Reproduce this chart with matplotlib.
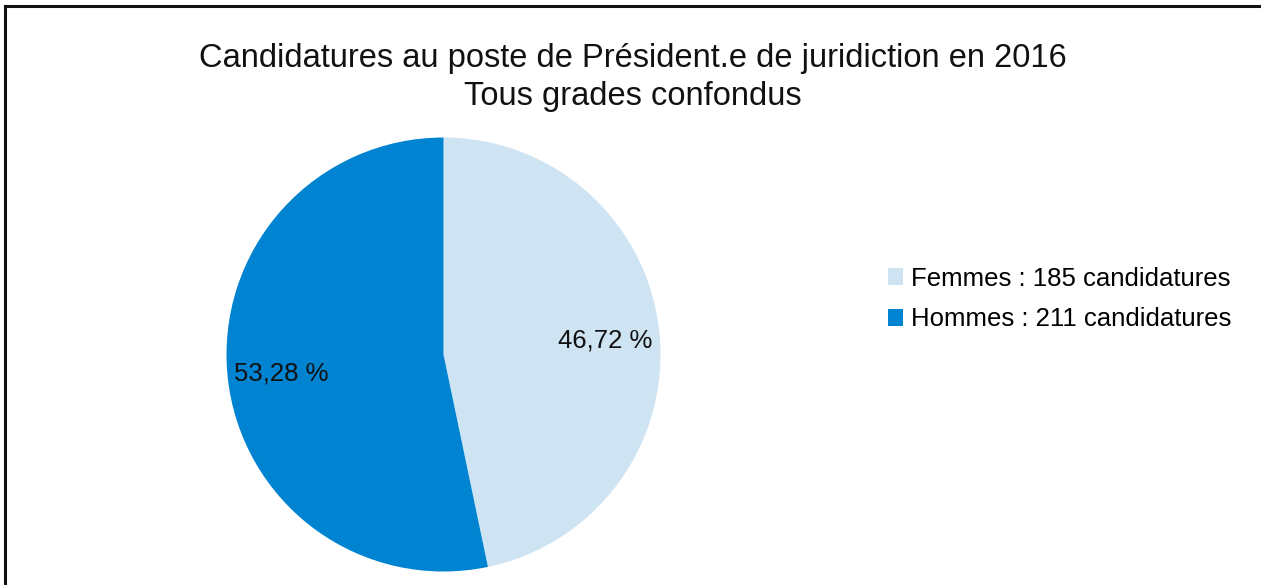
import matplotlib
matplotlib.use("Agg")
import matplotlib.pyplot as plt
from matplotlib.lines import Line2D

plt.rcParams['font.family'] = ['Liberation Sans', 'DejaVu Sans']

labels = ["Femmes", "Hommes"]
counts = [185, 211]
colors = ['#cfe4f3', '#0083d1']

W, H = 1261, 585
fig = plt.figure(figsize=(W / 100, H / 100), dpi=100)

# pie axes: centre ~ (443, 355) px, radius ~217 px
cx, cy, r = 443.5, 354.5, 217
ax = fig.add_axes([(cx - r) / W, (H - cy - r) / H, 2 * r / W, 2 * r / H])

fmt = lambda p: ("%.2f %%" % p).replace('.', ',')
wedges, _, autotexts = ax.pie(counts, colors=colors, startangle=90, counterclock=False,
                              autopct=fmt, pctdistance=0.75, radius=1,
                              textprops=dict(fontsize=18.5, color='#111111'))
for t in autotexts:
	t.set_va('center_baseline')
ax.set_xlim(-1, 1)
ax.set_ylim(-1, 1)
ax.set_aspect('equal')
ax.axis('off')

fig.text(633 / W, 1 - 58 / H, "Candidatures au poste de Président.e de juridiction en 2016",
         ha='center', va='center', fontsize=23.5, color='#111111')
fig.text(633 / W, 1 - 97 / H, "Tous grades confondus",
         ha='center', va='center', fontsize=23.5, color='#111111')

leg_labels = ["%s : %d candidatures" % (l, c) for l, c in zip(labels, counts)]
fig.legend(wedges, leg_labels, loc='center left', bbox_to_anchor=(888 / W, 1 - 299 / H),
           frameon=False, fontsize=18.5, handlelength=0.6, handleheight=0.6,
           handletextpad=0.3, labelspacing=0.66, borderaxespad=0, borderpad=0)

# frame lines (top and left only)
fig.add_artist(Line2D([5 / W, 1], [1 - 6 / H, 1 - 6 / H], transform=fig.transFigure,
                      color='#111111', lw=2.2))
fig.add_artist(Line2D([5 / W, 5 / W], [0, 1 - 6 / H], transform=fig.transFigure,
                      color='#111111', lw=2.2))

fig.savefig("out.png", dpi=100)
